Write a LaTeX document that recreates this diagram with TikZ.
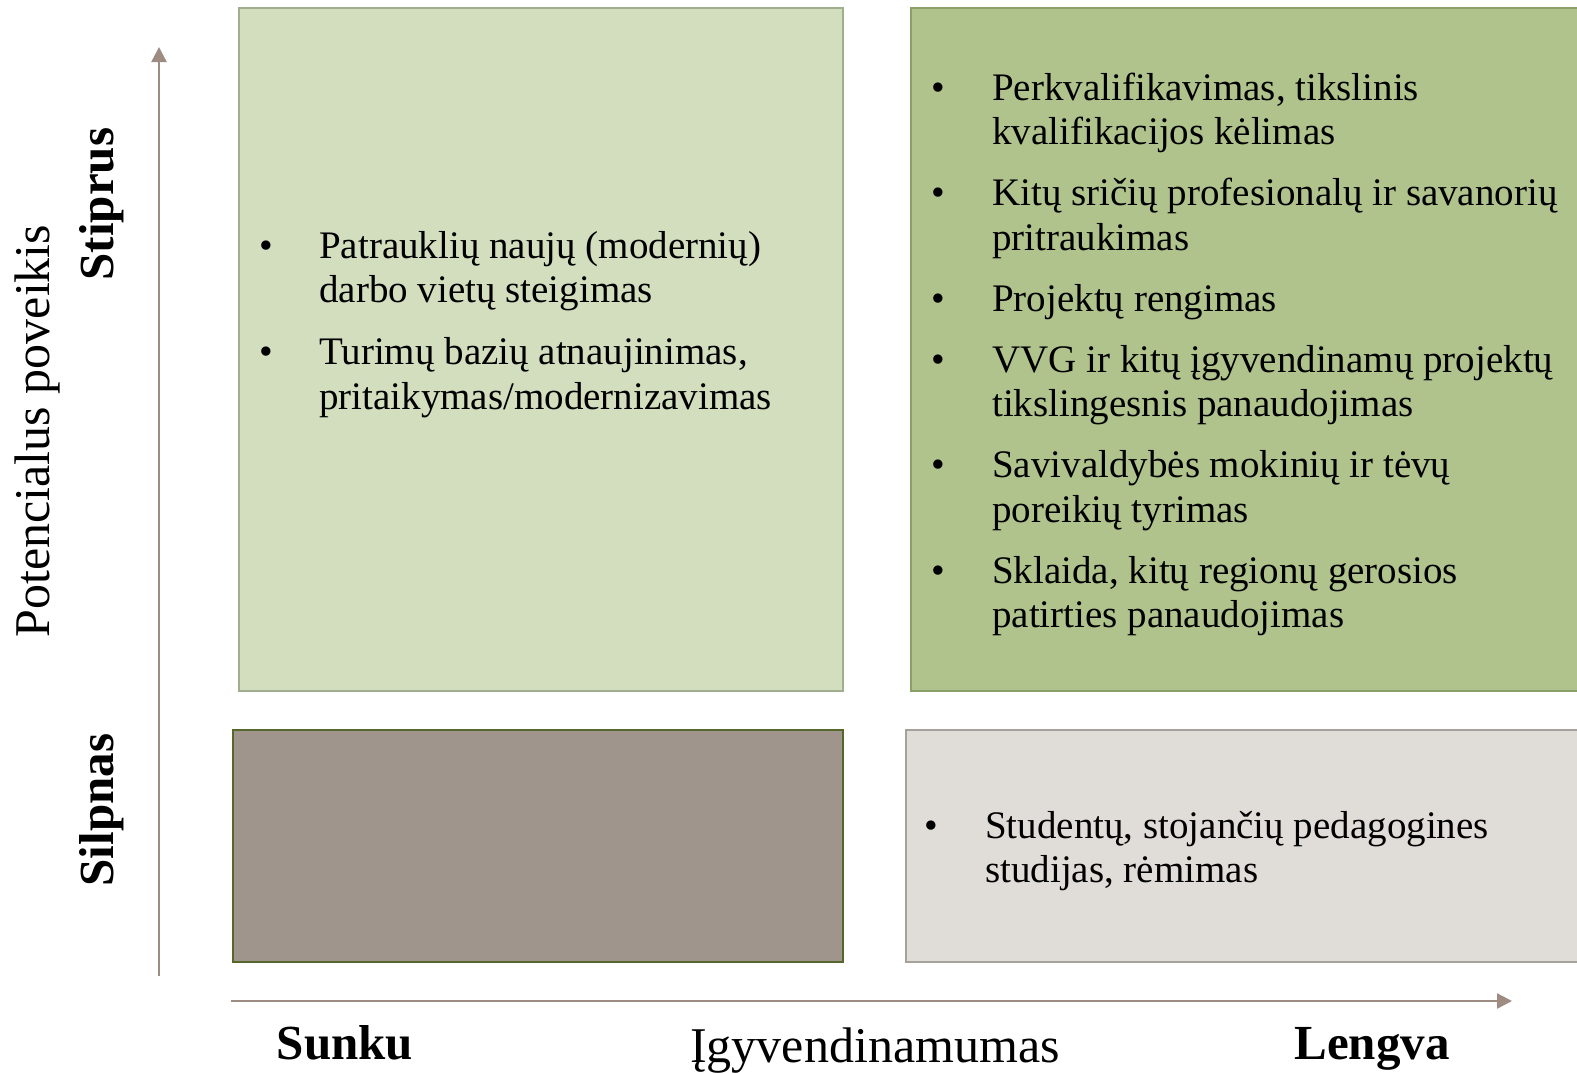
\documentclass[tikz,border=0pt]{standalone}
\usepackage{fontspec}
\setmainfont{Liberation Serif}
\usetikzlibrary{arrows.meta}
\definecolor{tlfill}{HTML}{D3DEBF}
\definecolor{tldraw}{HTML}{9FAE8D}
\definecolor{trfill}{HTML}{B1C38C}
\definecolor{trdraw}{HTML}{8B9F6B}
\definecolor{blfill}{HTML}{A0958C}
\definecolor{bldraw}{HTML}{56672C}
\definecolor{brfill}{HTML}{E0DCD8}
\definecolor{brdraw}{HTML}{A6A19D}
\definecolor{axiscol}{HTML}{9E8C82}
\tikzset{
  quad/.style={line width=2.2pt},
  item/.style={anchor=base west, inner sep=0pt, align=left,
    font=\fontsize{39}{44.5}\selectfont, text=black},
  bul/.style={anchor=base, inner sep=0pt, font=\fontsize{39}{44.5}\selectfont},
  axisarrow/.style={draw=axiscol, line width=2.4pt, -{Triangle[length=15pt,width=15pt]}},
  boldlab/.style={inner sep=0pt, font=\fontsize{49}{55}\selectfont\bfseries},
  reglab/.style={inner sep=0pt, font=\fontsize{50}{56}\selectfont},
}
\begin{document}
\begin{tikzpicture}[x=1pt,y=-1pt]
\useasboundingbox (0,0) rectangle (1577,1072);
% quadrants
\path[quad, fill=tlfill, draw=tldraw] (239,8) rectangle (843,691);
\path[quad, fill=trfill, draw=trdraw] (911,8) rectangle (1600,691);
\path[quad, fill=blfill, draw=bldraw] (233,730) rectangle (843,962);
\path[quad, fill=brfill, draw=brdraw] (906,730) rectangle (1600,962);
% axes
\coordinate (v0) at (159,976);
\coordinate (v1) at (159,47);
\coordinate (h0) at (231,1001);
\coordinate (h1) at (1512,1001);
\draw[axisarrow] (v0) -- (v1);
\draw[axisarrow] (h0) -- (h1);
% axis labels
\node[reglab, rotate=90, anchor=base] (pp) at (49,431) {Potencialus poveikis};
\node[boldlab, rotate=90, anchor=base] (st) at (113,204) {Stiprus};
\node[boldlab, rotate=90, anchor=base] (si) at (113,810) {Silpnas};
\node[boldlab, anchor=base] (su) at (345,1059) {Sunku};
\node[reglab, anchor=base] (ig) at (875,1062) {Įgyvendinamumas};
\node[boldlab, anchor=base] (le) at (1372,1059) {Lengva};
% top-left items (base anchor = last line)
\node[bul] (tlb1) at (266.5,258) {•};
\node[item] (tl1) at (319,302.5) {Patrauklių naujų (modernių)\\darbo vietų steigimas};
\node[bul] (tlb2) at (266.5,364.5) {•};
\node[item] (tl2) at (319,409) {Turimų bazių atnaujinimas,\\pritaikymas/modernizavimas};
% top-right items
\node[bul] (trb1) at (938,100) {•};
\node[item] (tr1) at (992,144.5) {Perkvalifikavimas, tikslinis\\kvalifikacijos kėlimas};
\node[bul] (trb2) at (938,205.5) {•};
\node[item] (tr2) at (992,250) {Kitų sričių profesionalų ir savanorių\\pritraukimas};
\node[bul] (trb3) at (938,311) {•};
\node[item] (tr3) at (992,311) {Projektų rengimas};
\node[bul] (trb4) at (938,372) {•};
\node[item] (tr4) at (992,416.5) {VVG ir kitų įgyvendinamų projektų\\tikslingesnis panaudojimas};
\node[bul] (trb5) at (938,477.5) {•};
\node[item] (tr5) at (992,522) {Savivaldybės mokinių ir tėvų\\poreikių tyrimas};
\node[bul] (trb6) at (938,583) {•};
\node[item] (tr6) at (992,627.5) {Sklaida, kitų regionų gerosios\\patirties panaudojimas};
% bottom-right item
\node[bul] (brb1) at (931,838) {•};
\node[item] (br1) at (985,882.5) {Studentų, stojančių pedagogines\\studijas, rėmimas};
\end{tikzpicture}
\end{document}
